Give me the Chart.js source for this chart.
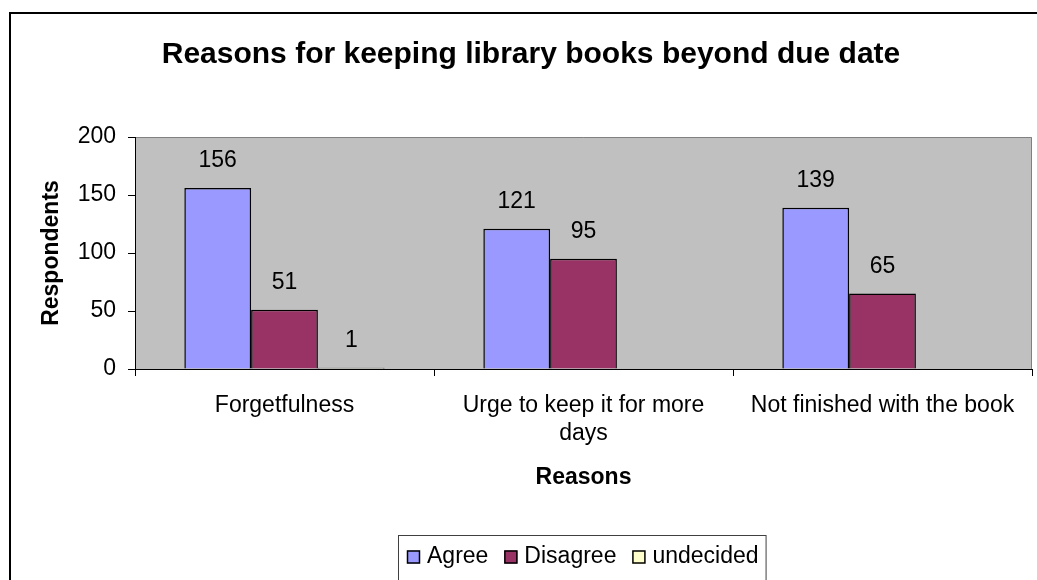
<!DOCTYPE html>
<html>
<head>
<meta charset="utf-8">
<script src="https://cdn.jsdelivr.net/npm/chart.js@4/dist/chart.umd.min.js"></script>
<style>
    html, body { margin: 0; padding: 0; background: #fff; }
    #wrap { width: 1037px; height: 580px; }
</style>
</head>
<body>
<div id="wrap"><canvas id="grafico"></canvas></div>
<script>
const reasons = [
    'Forgetfulness',
    ['Urge to keep it for more', 'days'],
    'Not finished with the book'
];
const agree = [156, 121, 139];
const disagree = [51, 95, 65];
const undecided = [1, null, null];
const yTicks = [0, 50, 100, 150, 200];

const FONT = '"Liberation Sans", Arial, sans-serif';

// marco exterior, fondo gris del area de trazado y leyenda con recuadro
const excelLook = {
    id: 'excelLook',
    beforeDraw(chart) {
        const ctx = chart.ctx;
        const a = chart.chartArea;
        ctx.save();
        ctx.fillStyle = '#C0C0C0';
        ctx.fillRect(a.left, a.top, a.right - a.left, a.bottom - a.top);
        ctx.strokeStyle = '#808080';
        ctx.lineWidth = 1;
        ctx.beginPath();
        ctx.moveTo(a.left, a.top + 0.5);
        ctx.lineTo(a.right - 0.5, a.top + 0.5);
        ctx.lineTo(a.right - 0.5, a.bottom);
        ctx.stroke();
        ctx.strokeStyle = '#000';
        ctx.lineWidth = 2;
        ctx.strokeRect(10, 13, 1100, 700);
        ctx.restore();
    },
    afterDraw(chart) {
        const ctx = chart.ctx;
        ctx.save();
        ctx.font = '23px ' + FONT;
        ctx.textBaseline = 'middle';
        const cy = 557;
        let x = 407;
        chart.data.datasets.forEach(ds => {
            ctx.fillStyle = ds.backgroundColor;
            ctx.fillRect(x, cy - 6.5, 13, 13);
            ctx.strokeStyle = '#000';
            ctx.lineWidth = 1.5;
            ctx.strokeRect(x + 0.5, cy - 6, 12, 12);
            ctx.fillStyle = '#000';
            ctx.fillText(ds.label, x + 20, cy);
            x += 20 + ctx.measureText(ds.label).width + 16;
        });
        ctx.strokeStyle = '#404040';
        ctx.lineWidth = 1;
        ctx.strokeRect(398.5, 535.5, x - 398 - 9, 100);
        ctx.restore();
    },
    afterDatasetsDraw(chart) {
        const ctx = chart.ctx;
        ctx.save();
        ctx.font = '23px ' + FONT;
        ctx.fillStyle = '#000';
        ctx.textAlign = 'center';
        ctx.textBaseline = 'middle';
        chart.data.datasets.forEach((ds, i) => {
            const meta = chart.getDatasetMeta(i);
            meta.data.forEach((bar, j) => {
                const v = ds.data[j];
                if (v === null || v === undefined) return;
                ctx.fillText(String(v), bar.x, bar.y - 27);
            });
        });
        ctx.restore();
    }
};

new Chart(document.getElementById('grafico'), {
    type: 'bar',
    data: {
        labels: reasons,
        datasets: [
            { label: 'Agree', data: agree, backgroundColor: '#9999FF' },
            { label: 'Disagree', data: disagree, backgroundColor: '#993366' },
            { label: 'undecided', data: undecided, backgroundColor: '#FFFFCC' }
        ]
    },
    options: {
        responsive: true,
        maintainAspectRatio: false,
        animation: false,
        datasets: {
            bar: {
                borderColor: '#000',
                borderWidth: 1.5,
                barPercentage: 1,
                categoryPercentage: 0.67
            }
        },
        layout: { padding: { left: 30, right: 5, top: 0, bottom: 89 } },
        plugins: {
            legend: { display: false },
            tooltip: { enabled: false },
            title: {
                display: true,
                text: 'Reasons for keeping library books beyond due date',
                color: '#000',
                font: { family: FONT, size: 30, weight: 'bold' },
                padding: { top: 37, bottom: 64 }
            }
        },
        scales: {
            x: {
                grid: {
                    drawOnChartArea: false,
                    tickLength: 7,
                    tickColor: '#000'
                },
                border: { color: '#000', width: 1 },
                ticks: {
                    color: '#000',
                    padding: 16,
                    maxRotation: 0,
                    autoSkip: false,
                    font: { family: FONT, size: 23, lineHeight: 1.22 }
                },
                title: {
                    display: true,
                    text: 'Reasons',
                    color: '#000',
                    font: { family: FONT, size: 23, weight: 'bold' },
                    padding: { top: 0, bottom: 0 }
                },
                afterFit(scale) { scale.height = 122; }
            },
            y: {
                min: 0,
                max: 200,
                grid: {
                    drawOnChartArea: false,
                    tickLength: 7,
                    tickColor: '#000'
                },
                border: { color: '#000', width: 1 },
                afterBuildTicks(scale) {
                    scale.ticks = yTicks.map(v => ({ value: v }));
                },
                ticks: {
                    color: '#000',
                    padding: 12,
                    font: { family: FONT, size: 23 }
                },
                title: {
                    display: true,
                    text: 'Respondents',
                    color: '#000',
                    font: { family: FONT, size: 23, weight: 'bold' },
                    padding: { top: 8, bottom: 0 }
                },
                afterFit(scale) { scale.width = 105; }
            }
        }
    },
    plugins: [excelLook]
});
</script>
</body>
</html>
